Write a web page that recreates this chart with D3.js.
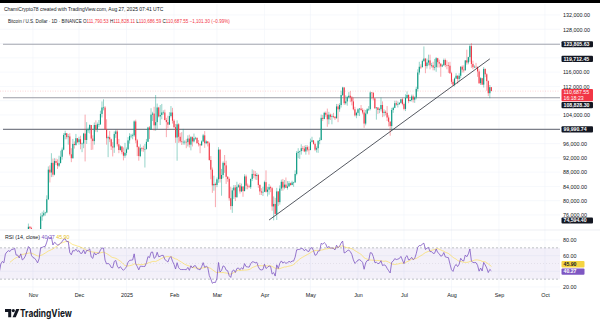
<!DOCTYPE html>
<html><head><meta charset="utf-8">
<script src="https://cdn.jsdelivr.net/npm/d3@7"></script>
<style>html,body{margin:0;padding:0;background:#fff;}svg{display:block;}</style>
</head><body><svg id="c" width="600" height="326"></svg>
<script>
// ---------- DATA (prices in thousands of USD, daily, BINANCE BTCUSD) ----------
const startDate = "2024-09-20";
const firstOpen = 62.9;
const closes = [
 63.2,63.3,63.6,63.3,64.3,63.1,65.2,65.8,65.9,65.6,63.3,
 60.8,60.6,60.7,62.1,62.1,62.8,62.2,62.1,60.6,60.3,62.4,63.2,62.8,66.0,67.0,67.6,67.4,68.4,68.4,69.0,67.4,67.4,66.7,68.2,66.6,67.0,68.0,69.9,72.7,72.3,70.2,
 69.5,69.3,68.7,67.8,69.4,75.6,75.9,76.5,76.7,80.4,88.7,87.9,90.6,87.3,91.1,90.6,89.8,90.5,92.3,94.3,98.4,98.9,97.8,98.0,93.0,91.9,95.9,95.6,97.5,96.4,
 97.2,95.9,96.0,98.8,97.0,99.9,99.9,101.2,97.4,96.7,101.2,100.0,101.4,101.4,104.3,106.1,106.1,100.0,97.5,97.8,97.2,95.2,94.9,98.7,99.4,95.8,94.2,95.2,93.6,92.6,93.4,
 94.4,96.9,98.1,98.2,98.3,102.2,96.9,95.0,92.5,94.7,94.6,94.5,94.5,96.5,100.5,99.9,104.1,104.4,101.1,102.0,106.1,103.6,104.0,104.7,104.7,102.6,102.0,101.3,103.7,104.7,102.4,
 100.6,97.7,101.4,97.9,96.6,96.5,96.5,96.5,96.4,97.4,95.7,97.8,96.6,97.5,97.6,96.1,95.8,95.5,96.6,98.3,96.1,96.6,96.1,91.4,88.7,84.3,84.7,84.4,
 86.0,94.3,86.1,87.2,90.6,89.9,86.7,86.1,80.7,78.5,82.9,83.7,81.0,83.9,84.3,82.6,84.0,82.7,86.8,84.2,84.0,83.8,86.1,87.5,87.4,86.9,87.2,84.4,82.6,82.3,82.5,
 85.2,82.5,83.1,83.8,83.5,78.4,79.1,76.3,82.6,79.6,83.4,85.3,83.7,84.5,83.6,84.0,84.9,84.4,85.1,85.1,87.5,93.4,93.7,93.9,94.7,94.6,93.8,95.0,94.3,94.2,
 96.5,96.9,95.9,94.3,94.7,96.8,97.0,103.2,102.9,104.6,104.1,102.8,104.1,103.5,103.7,103.5,103.1,106.4,105.6,106.8,109.6,111.7,107.3,107.8,109.0,109.4,108.9,107.8,105.6,103.9,104.6,
 105.6,105.8,105.4,104.7,101.6,104.4,105.6,105.7,110.3,110.2,108.7,105.9,106.1,105.4,105.6,106.8,104.6,104.9,104.6,103.3,102.1,100.9,105.4,106.0,107.3,106.9,107.1,107.4,108.4,107.1,
 105.7,108.8,109.6,107.9,108.2,109.2,108.3,108.9,111.3,115.9,117.5,117.4,119.1,119.8,117.7,118.7,119.3,117.9,117.9,117.3,117.4,119.9,118.8,118.4,117.6,117.9,119.4,118.0,117.9,117.8,115.7,
 113.3,112.5,114.2,115.0,114.1,115.0,117.5,116.7,116.5,119.3,118.7,120.2,123.3,118.3,117.4,117.5,117.4,116.2,112.9,114.3,112.5,116.9,115.4,113.5,110.1,111.79,110.69
];
const highs = [
 64.1,63.5,64.0,64.8,64.5,64.8,65.8,66.5,66.3,66.1,65.6,
 64.1,62.4,61.5,62.5,62.4,63.0,64.5,63.2,62.5,61.3,63.4,63.5,63.3,66.5,67.9,68.4,67.9,68.9,68.6,69.4,69.5,67.8,67.5,68.8,68.7,67.4,68.3,70.3,73.6,72.9,72.7,
 71.6,70.0,69.4,69.0,70.6,76.5,76.9,77.3,76.9,81.5,89.6,89.9,93.3,91.8,91.9,91.8,91.6,92.6,94.0,94.9,98.9,99.6,98.9,98.7,98.9,94.7,97.3,96.6,98.7,97.5,
 97.9,98.2,96.3,99.0,104.1,102.0,100.5,101.4,101.2,98.3,101.9,102.5,101.9,102.6,105.2,107.8,108.4,106.5,102.8,98.2,99.5,97.4,96.4,99.4,99.9,99.9,97.3,95.5,95.2,94.9,96.2,
 94.9,97.8,98.9,98.7,98.8,102.5,102.7,97.3,95.3,95.8,95.0,95.4,95.9,97.3,100.7,100.9,105.9,104.9,106.3,109.6,107.2,106.3,106.8,107.1,105.3,105.5,103.2,103.8,104.8,106.5,106.0,
 102.8,101.5,102.5,101.7,99.0,99.2,100.1,96.9,97.3,98.3,98.5,98.1,98.0,98.8,97.9,97.7,97.0,96.0,96.9,98.7,99.5,96.9,96.7,96.5,92.5,89.3,87.0,85.1,
 86.5,95.0,94.4,88.9,91.0,92.8,91.2,86.9,86.5,83.9,83.6,84.4,84.4,85.3,84.7,85.0,84.8,84.0,87.4,87.3,84.8,84.5,86.2,88.8,88.5,88.3,87.8,87.5,84.6,83.5,83.9,
 85.6,88.5,83.9,84.7,84.2,83.8,81.2,80.8,83.6,82.7,84.3,85.9,86.1,85.8,86.5,85.5,85.5,85.1,85.6,85.3,88.5,93.9,94.7,94.0,95.8,95.3,95.4,95.6,95.5,95.2,
 97.4,97.9,96.9,96.3,95.2,96.9,97.7,104.1,104.0,104.9,105.0,105.8,104.9,104.4,104.2,104.6,103.7,107.1,107.1,107.3,110.8,111.9,111.8,109.5,109.3,110.4,110.7,109.3,108.9,106.3,104.9,
 105.9,105.9,106.8,105.9,105.5,105.4,105.9,106.5,110.6,110.4,110.4,108.5,106.2,106.2,106.0,108.9,107.8,105.6,105.3,106.5,103.9,102.3,106.0,106.3,108.0,108.0,107.8,107.6,108.5,108.8,
 107.5,109.8,110.6,109.8,108.4,109.7,109.7,109.2,111.9,116.8,118.9,118.2,119.5,123.2,119.9,119.8,120.9,120.9,118.6,118.9,119.7,120.2,120.0,119.5,118.4,118.3,119.8,119.8,119.3,118.8,118.9,
 116.1,114.0,114.5,115.7,115.1,115.7,117.7,117.9,117.9,119.3,122.3,120.3,123.7,124.1,119.2,117.9,118.6,117.6,116.8,114.6,114.4,117.4,117.0,115.7,113.7,112.4,111.83
];
const lows = [
 62.3,62.8,62.4,62.8,62.7,62.9,62.7,64.8,65.4,65.4,62.9,
 60.2,59.9,59.8,60.5,61.6,61.9,62.1,61.8,60.3,58.9,60.1,62.4,62.0,62.4,64.8,66.7,66.7,67.1,68.1,68.1,66.6,66.6,65.3,66.5,65.6,66.5,66.8,67.5,69.7,71.4,69.7,
 68.8,69.0,67.5,66.8,67.5,69.4,74.4,75.6,75.8,76.5,80.2,85.1,86.6,86.7,87.1,90.0,88.9,89.4,90.9,91.5,94.1,97.2,97.2,95.7,92.6,90.8,91.8,94.6,95.4,96.1,
 95.7,94.4,93.6,94.7,91.0,95.9,99.0,98.8,94.2,94.3,95.7,99.3,99.2,100.6,101.2,103.3,105.3,100.0,95.7,92.2,96.4,94.2,92.4,93.4,97.6,95.2,93.3,94.0,93.0,91.3,92.0,
 92.7,94.2,96.0,97.5,97.2,97.9,96.1,92.5,91.2,92.2,93.8,93.7,89.3,94.3,96.5,97.3,99.9,102.3,99.6,99.6,100.1,103.3,101.2,102.8,104.1,102.5,97.8,100.3,101.3,103.3,101.6,
 100.3,96.2,91.2,96.2,96.2,95.6,95.7,95.7,94.7,95.2,94.9,94.1,95.2,96.3,97.1,96.0,95.2,93.3,95.4,96.4,94.8,95.8,95.2,91.2,86.0,82.2,82.8,78.2,
 83.8,85.0,85.1,81.4,86.3,87.8,84.7,85.3,80.0,77.5,76.6,80.5,79.9,80.8,83.6,82.0,82.4,81.1,82.6,83.2,83.2,83.6,83.3,85.5,86.3,85.9,85.8,83.6,81.6,81.6,81.3,
 82.4,82.3,81.2,81.7,82.4,77.2,74.5,76.2,74.6,78.5,78.9,82.8,82.8,83.2,83.6,83.1,83.9,84.2,84.3,83.9,85.1,87.1,91.9,91.7,92.9,93.9,93.6,92.9,93.8,92.9,
 94.1,96.3,95.7,93.9,93.5,93.4,95.8,96.9,102.3,102.8,103.5,100.7,101.4,102.6,101.4,103.1,102.6,103.0,102.0,104.9,106.1,109.3,106.8,106.9,106.6,108.7,107.6,106.7,105.3,103.6,103.1,
 103.8,103.7,105.1,104.2,100.4,101.1,104.2,105.1,105.3,108.4,108.1,105.7,102.7,104.3,104.5,105.0,103.4,103.6,103.9,102.3,100.8,98.2,99.6,104.6,105.9,106.6,106.1,106.8,107.2,106.7,
 105.3,105.1,108.6,107.3,107.8,107.8,107.5,107.4,108.4,110.6,115.3,116.9,117.3,118.9,115.7,117.0,117.9,116.8,117.3,116.5,116.5,116.1,117.3,117.3,114.7,117.4,117.8,117.4,116.8,115.8,115.5,
 112.7,112.0,112.0,114.1,112.7,113.4,114.3,115.9,115.9,116.5,118.1,118.2,118.9,117.2,116.8,117.2,117.2,114.7,112.7,112.4,112.4,111.7,114.6,110.8,109.3,108.7,110.69
];
const priceTicks = [76000,80000,84000,88000,92000,96000,100000,104000,108000,112000,116000,120000,124000,128000,132000];
const monthDates = ["2024-11-01","2024-12-01","2025-01-01","2025-02-01","2025-03-01","2025-04-01","2025-05-01","2025-06-01","2025-07-01","2025-08-01","2025-09-01","2025-10-01"];
const monthLabels = ["Nov","Dec","2025","Feb","Mar","Apr","May","Jun","Jul","Aug","Sep","Oct"];
const levels = [123805.63, 108828.30, 99990.74];
const trendDates = ["2025-04-04","2025-08-26"];
const trendPrices = [74594.40, 119712.45];
const lastPrice = 110687.55;
const countdown = "16:18:23";
const rsiTicks = [80,60,40,20];
const rsiBands = [70,30];
const rsiLast = 40.27, rsiMaLast = 45.90;
const headerTitle = "Bitcoin / U.S. Dollar · 1D · BINANCE";
const ohlcKeys = ["O","H","L","C"];
const ohlcVals = ["111,790.53","111,828.11","110,686.59","110,687.55"];
const changeText = "−1,101.30 (−0.99%)";
const creditText = "ChamiCrypto78 created with TradingView.com, Aug 27, 2025 07:41 UTC";

// ---------- DRAW ----------
const FONT = "'Liberation Sans', Arial, sans-serif";
const UP = "#089981", DN = "#f23645", INK = "#131722";
const svg = d3.select("#c").attr("font-family", FONT);
const paneR = 560, priceTop = 4, priceBot = 229, rsiTop = 231, rsiBot = 292;
const parse = d3.utcParse("%Y-%m-%d");
const t0 = parse(startDate);
const dates = closes.map((_, i) => new Date(+t0 + i * 864e5));
const x = d3.scaleUtc().domain([parse("2024-11-01"), parse("2025-10-01")]).range([33, 545]);
const y = d3.scaleLinear().domain([76000, 132000]).range([215, 15]);
const yr = d3.scaleLinear().domain([20, 80]).range([287, 240]);
const fmt = d3.format(",.2f");

svg.append("rect").attr("width", 600).attr("height", 326).attr("fill", "#fff");

const defs = svg.append("defs");
defs.append("clipPath").attr("id", "cp").append("rect").attr("x", 0).attr("y", priceTop).attr("width", paneR).attr("height", priceBot - priceTop);
defs.append("clipPath").attr("id", "cr").append("rect").attr("x", 0).attr("y", rsiTop).attr("width", paneR).attr("height", rsiBot - rsiTop);

// grid
const grid = svg.append("g").attr("stroke", "#f0f3fa").attr("stroke-width", 0.6);
grid.selectAll(".h").data(priceTicks).join("line").attr("x1", 0).attr("x2", paneR).attr("y1", d => y(d)).attr("y2", d => y(d));
grid.selectAll(".v").data(monthDates).join("line").attr("x1", d => x(parse(d))).attr("x2", d => x(parse(d))).attr("y1", priceTop).attr("y2", rsiBot);
grid.selectAll(".r").data(rsiTicks).join("line").attr("x1", 0).attr("x2", paneR).attr("y1", d => yr(d)).attr("y2", d => yr(d));
svg.append("line").attr("x1", 0).attr("x2", 600).attr("y1", 230).attr("y2", 230).attr("stroke", "#e0e3eb").attr("stroke-width", 0.6);

// horizontal levels
const levelColors = ["#a3a6af", "#9a9da6", "#7c7f89"];
svg.append("g").selectAll("line").data(levels).join("line")
  .attr("x1", 3).attr("x2", paneR).attr("y1", d => y(d)).attr("y2", d => y(d))
  .attr("stroke", (d, i) => levelColors[i]).attr("stroke-width", 1.2);

// last price dotted line
svg.append("line").attr("x1", 0).attr("x2", paneR).attr("y1", y(lastPrice)).attr("y2", y(lastPrice))
  .attr("stroke", DN).attr("stroke-opacity", 0.35).attr("stroke-width", 0.6).attr("stroke-dasharray", "1,1.5");

// candles
const cg = svg.append("g").attr("clip-path", "url(#cp)");
const bars = closes.map((c, i) => ({ d: dates[i], o: (i ? closes[i - 1] : firstOpen) * 1000, c: c * 1000, h: highs[i] * 1000, l: lows[i] * 1000 }));
cg.selectAll("line").data(bars).join("line")
  .attr("x1", b => x(b.d)).attr("x2", b => x(b.d)).attr("y1", b => y(b.h)).attr("y2", b => y(b.l))
  .attr("stroke", b => b.c >= b.o ? UP : DN).attr("stroke-width", 0.5).attr("stroke-opacity", 0.85);
cg.selectAll("rect").data(bars).join("rect")
  .attr("x", b => x(b.d) - 0.55).attr("width", 1.1)
  .attr("y", b => y(Math.max(b.o, b.c))).attr("height", b => Math.max(0.6, Math.abs(y(b.o) - y(b.c))))
  .attr("fill", b => b.c >= b.o ? UP : DN);

// trend line
svg.append("line")
  .attr("x1", x(parse(trendDates[0]))).attr("y1", y(trendPrices[0]))
  .attr("x2", x(parse(trendDates[1]))).attr("y2", y(trendPrices[1]))
  .attr("stroke", "#2a2e39").attr("stroke-width", 0.8);

// ---- price-scale label boxes (positions resolved so they don't collide) ----
const yLast = y(lastPrice);
const redTop = yLast - 2.2, redH = 12.4;
const boxes = [
  { yc: y(levels[0]), h: 6.2, t: fmt(levels[0]), bg: INK, fg: "#fff" },
  { yc: y(trendPrices[1]), h: 6.2, t: fmt(trendPrices[1]), bg: INK, fg: "#fff" },
  { yc: redTop + redH / 2, h: redH, t: fmt(lastPrice), t2: countdown, bg: DN, fg: "#fff" },
  { yc: Math.max(y(levels[1]), redTop + redH + 0.8 + 3.1), h: 6.2, t: fmt(levels[1]), bg: INK, fg: "#fff" },
  { yc: y(levels[2]), h: 6.2, t: fmt(levels[2]), bg: INK, fg: "#fff" },
  { yc: Math.max(y(trendPrices[0]), y(76000) + 5.4), h: 6.0, t: fmt(trendPrices[0]), bg: INK, fg: "#fff" }
];
const rboxes = [
  { yc: 264.2, h: 6.4, t: fmt(rsiMaLast), bg: "#f5d442", fg: INK },
  { yc: 271.6, h: 6.4, t: fmt(rsiLast), bg: "#7e57c2", fg: "#fff" }
];
const hidden = (yy, list) => list.some(b => yy + 2.2 > b.yc - b.h / 2 && yy - 2.2 < b.yc + b.h / 2);

// price axis
const yAxis = svg.append("g").attr("transform", `translate(${paneR},0)`)
  .call(d3.axisRight(y).tickValues(priceTicks).tickFormat(fmt).tickSize(0).tickPadding(3));
yAxis.select(".domain").remove();
yAxis.selectAll(".tick").filter(d => hidden(y(d), boxes)).remove();
yAxis.attr("font-size", 5.4).attr("font-family", FONT).selectAll("text").attr("fill", INK);

function drawBox(b, w) {
  const g = svg.append("g");
  g.append("rect").attr("x", 561.5).attr("y", b.yc - b.h / 2).attr("width", w).attr("height", b.h).attr("rx", 1).attr("fill", b.bg);
  if (b.t2) {
    g.append("text").attr("x", 563.5).attr("y", b.yc - 1.1).attr("font-size", 5.2).attr("fill", b.fg).text(b.t);
    g.append("text").attr("x", 563.5).attr("y", b.yc + 4.5).attr("font-size", 5.2).attr("fill", b.fg).text(b.t2);
  } else {
    g.append("text").attr("x", 563.5).attr("y", b.yc).attr("dy", "0.35em").attr("font-size", 5.2).attr("font-weight", "bold").attr("fill", b.fg).text(b.t);
  }
}
boxes.forEach(b => drawBox(b, 31.5));

// RSI pane
const rg = svg.append("g");
rg.append("rect").attr("x", 0).attr("width", paneR).attr("y", yr(rsiBands[0])).attr("height", yr(rsiBands[1]) - yr(rsiBands[0]))
  .attr("fill", "#7e57c2").attr("fill-opacity", 0.09);
rg.selectAll("line.b").data(rsiBands).join("line").attr("x1", 0).attr("x2", paneR).attr("y1", d => yr(d)).attr("y2", d => yr(d))
  .attr("stroke", "#9598a1").attr("stroke-width", 0.6).attr("stroke-dasharray", "2,2");
rg.append("line").attr("x1", 0).attr("x2", paneR).attr("y1", yr(50)).attr("y2", yr(50))
  .attr("stroke", "#9598a1").attr("stroke-opacity", 0.35).attr("stroke-width", 0.5).attr("stroke-dasharray", "1,2");

// RSI(14) via Wilder's smoothing of the closes, plus its 14-period SMA
const N = 14, rsi = new Array(closes.length).fill(null);
let ag = 0, al = 0;
for (let i = 1; i <= N; i++) { const ch = closes[i] - closes[i - 1]; ag += Math.max(ch, 0); al += Math.max(-ch, 0); }
ag /= N; al /= N; rsi[N] = 100 - 100 / (1 + ag / al);
for (let i = N + 1; i < closes.length; i++) {
  const ch = closes[i] - closes[i - 1];
  ag = (ag * (N - 1) + Math.max(ch, 0)) / N; al = (al * (N - 1) + Math.max(-ch, 0)) / N;
  rsi[i] = al === 0 ? 100 : 100 - 100 / (1 + ag / al);
}
const rsiMa = rsi.map((v, i) => { if (i < 2 * N - 1) return null; let s = 0; for (let k = i - N + 1; k <= i; k++) s += rsi[k]; return s / N; });
const rc = svg.append("g").attr("clip-path", "url(#cr)");
rc.append("path").datum(dates.map((d, i) => [d, rsiMa[i]]).filter(p => p[1] != null))
  .attr("d", d3.line().x(p => x(p[0])).y(p => yr(p[1]))).attr("fill", "none").attr("stroke", "#fdd835").attr("stroke-opacity", 0.7).attr("stroke-width", 0.8);
rc.append("path").datum(dates.map((d, i) => [d, rsi[i]]).filter(p => p[1] != null))
  .attr("d", d3.line().x(p => x(p[0])).y(p => yr(p[1]))).attr("fill", "none").attr("stroke", "#7e57c2").attr("stroke-width", 0.8);

const rAxis = svg.append("g").attr("transform", `translate(${paneR},0)`)
  .call(d3.axisRight(yr).tickValues(rsiTicks).tickFormat(d3.format(".2f")).tickSize(0).tickPadding(3));
rAxis.select(".domain").remove();
rAxis.selectAll(".tick").filter(d => hidden(yr(d), rboxes)).remove();
rAxis.attr("font-size", 5.4).attr("font-family", FONT).selectAll("text").attr("fill", INK);
rboxes.forEach(b => drawBox(b, 23));

const rh = svg.append("text").attr("x", 5).attr("y", 238.7).attr("font-size", 5.3).attr("fill", INK);
rh.append("tspan").text("RSI (14, close) ");
rh.append("tspan").attr("fill", "#7e57c2").text(d3.format(".2f")(rsiLast) + " ");
rh.append("tspan").attr("fill", "#e8c21c").text(d3.format(".2f")(rsiMaLast));

// time axis
const xAxis = svg.append("g").attr("transform", `translate(0,${rsiBot + 1})`)
  .call(d3.axisBottom(x).tickValues(monthDates.map(parse)).tickFormat((d, i) => monthLabels[i]).tickSize(0).tickPadding(0));
xAxis.select(".domain").remove();
xAxis.attr("font-size", 5.4).attr("font-family", FONT).selectAll("text").attr("fill", INK);

// header (natural text, horizontally scaled to the reference width)
function fit(sel, x0, yb, width) {
  const w = sel.node().getComputedTextLength();
  sel.attr("transform", `translate(${x0},${yb}) scale(${width / w},1)`);
}
svg.append("rect").attr("width", 600).attr("height", 3).attr("fill", "#000");
const h1 = svg.append("text").attr("font-size", 5.3).attr("fill", INK).text(creditText);
fit(h1, 4, 11.3, 160);
const h2 = svg.append("text").attr("font-size", 5.3).attr("fill", INK);
h2.append("tspan").text(headerTitle + "  ");
ohlcKeys.forEach((k, i) => {
  h2.append("tspan").attr("fill", INK).text(k);
  h2.append("tspan").attr("fill", DN).text(ohlcVals[i] + " ");
});
h2.append("tspan").attr("fill", DN).text(changeText);
fit(h2, 8, 22.6, 222);

// logo
const lg = svg.append("g").attr("fill", INK);
lg.append("path").attr("d", "M5,309 h6.2 v8.2 h-3 v-5.3 h-3.2 z");
lg.append("circle").attr("cx", 13.3).attr("cy", 310.6).attr("r", 1.6);
lg.append("path").attr("d", "M16.2,309 h3.2 l-3.6,8.2 h-3.2 z");
const lt = lg.append("text").attr("font-size", 10.6).attr("font-weight", "bold")
  .attr("font-family", "Inter, 'Liberation Sans', sans-serif").text("TradingView");
fit(lt, 20, 317.4, 52);
</script>
</body></html>
